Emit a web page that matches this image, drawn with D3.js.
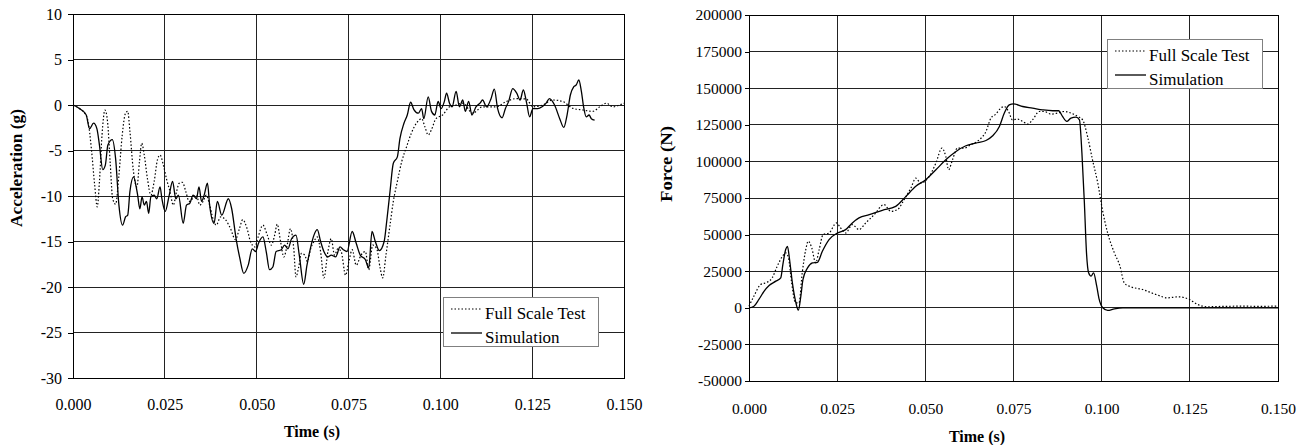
<!DOCTYPE html>
<meta charset="utf-8">
<style>
body { margin: 0; background: #fff; }
svg, text { font-family: "Liberation Serif", "Times New Roman", serif; fill: #000; }
.grid line { stroke: #222; stroke-width: 1px; shape-rendering: crispEdges; }
.frame { fill: none; stroke: #000; stroke-width: 1px; shape-rendering: crispEdges; }
.axis path { display: none; }
.axis line { stroke: #000; shape-rendering: crispEdges; }
.sim { fill: none; stroke: #000; stroke-width: 1.3px; }
.test { fill: none; stroke: #000; stroke-width: 1.2px; stroke-dasharray: 1.5,2; }
.legend rect { fill: #fff; stroke: #808080; stroke-width: 1px; shape-rendering: crispEdges; }
</style>
<body>
<script src="https://d3js.org/d3.v7.min.js"></script>
<script>

// ---- data ----
var seriesNames = ["Full Scale Test", "Simulation"];
var timeTicks = [0, 0.025, 0.05, 0.075, 0.1, 0.125, 0.15];
var accTicks = [-30, -25, -20, -15, -10, -5, 0, 5, 10];
var forceTicks = [-50000, -25000, 0, 25000, 50000, 75000, 100000, 125000, 150000, 175000, 200000];

// acceleration (g), [time s, value]
var accSim = [[0,0],[0.0018,-0.4],[0.0036,-1.1],[0.0045,-2.6],[0.0056,-2.0],[0.0065,-2.6],[0.0072,-4.4],
  [0.0081,-7.1],[0.0088,-6.6],[0.0095,-4.4],[0.0107,-3.8],[0.0116,-5.9],[0.0125,-11],[0.0135,-13.2],
  [0.0143,-12.3],[0.0149,-12.1],[0.0155,-9.5],[0.0165,-7.9],[0.0172,-9.0],[0.0176,-9.9],[0.0182,-11.4],
  [0.0188,-10.1],[0.0194,-11],[0.0200,-10.6],[0.0206,-11.9],[0.0212,-10.1],[0.0221,-9.9],[0.0228,-10.3],
  [0.0237,-9.0],[0.0242,-10.3],[0.0251,-11.7],[0.0262,-9.9],[0.0271,-8.4],[0.0280,-10.3],[0.0287,-9.9],
  [0.0300,-13],[0.0309,-11],[0.0318,-10.8],[0.0327,-9.9],[0.0336,-10.3],[0.0343,-9.0],[0.0350,-10.6],
  [0.0357,-9.9],[0.0366,-8.6],[0.0372,-11],[0.0384,-13],[0.0393,-10.6],[0.0405,-12.1],[0.0423,-10.3],
  [0.0432,-11.4],[0.0444,-14.7],[0.0454,-16.8],[0.0465,-18.5],[0.0477,-17.6],[0.0488,-15.8],[0.0497,-16.1],
  [0.0505,-15.2],[0.0517,-14.5],[0.0526,-16.1],[0.0535,-18.1],[0.0544,-17.8],[0.0553,-16.1],[0.0567,-15.9],
  [0.0576,-15.4],[0.0585,-15.8],[0.0595,-14.7],[0.0607,-14.3],[0.0616,-16.5],[0.0628,-19.7],[0.0637,-17.6],
  [0.0646,-15.8],[0.0656,-14.3],[0.0665,-13.7],[0.0674,-15],[0.0683,-16.1],[0.0694,-16.7],[0.0703,-16.5],
  [0.0715,-16.7],[0.0727,-15.6],[0.0736,-15.9],[0.0746,-16.1],[0.0760,-13.9],[0.0771,-15.2],[0.0782,-16.5],
  [0.0796,-17.0],[0.0805,-17.9],[0.0814,-13.9],[0.0823,-15],[0.0834,-16],[0.0847,-15],[0.0854,-12.8],
  [0.0863,-9.5],[0.0872,-6.4],[0.0883,-5.7],[0.0890,-3.7],[0.0901,-2.0],[0.0910,-1.1],[0.0919,0.3],
  [0.0928,-0.5],[0.0940,-0.9],[0.0949,-0.4],[0.0955,-1.5],[0.0967,0.9],[0.0976,-0.7],[0.0985,-1.1],
  [0.0994,0.4],[0.1002,-0.4],[0.1011,0.4],[0.1017,1.3],[0.1025,0.2],[0.1032,-0.2],[0.1043,1.5],
  [0.1052,-0.2],[0.1061,0.55],[0.1068,-0.7],[0.1077,0.4],[0.1086,-1.1],[0.1097,-0.2],[0.1108,0.2],
  [0.1115,0.55],[0.1126,-0.2],[0.1138,0.7],[0.1147,1.75],[0.1156,-0.4],[0.1168,-1.4],[0.1177,-0.4],
  [0.1186,0.4],[0.1197,1.8],[0.1208,1.3],[0.1217,0.55],[0.1226,1.65],[0.1235,0.2],[0.1243,-1.3],
  [0.1252,-0.4],[0.1265,-0.4],[0.1277,-0.2],[0.1288,0.2],[0.1297,0.7],[0.1311,0],[0.1325,-1.5],
  [0.1336,-2.45],[0.1345,-1.1],[0.1354,1.1],[0.1363,2.0],[0.1370,2.2],[0.1377,2.75],[0.1384,1.5],
  [0.1390,-0.2],[0.1397,-1.3],[0.1405,-1.1],[0.1411,-1.5],[0.1420,-1.65]];

var accTest = [[0,0],[0.0018,-0.4],[0.0032,-0.9],[0.0041,-1.8],[0.0050,-4.8],[0.0059,-8.8],[0.0066,-11.2],
  [0.0072,-8.4],[0.0079,-3.3],[0.0087,-0.55],[0.0094,-1.8],[0.0101,-6.2],[0.0108,-10.3],[0.0116,-10.9],
  [0.0125,-7.7],[0.0134,-3.3],[0.0143,-0.9],[0.0149,-0.7],[0.0155,-2.9],[0.0164,-7.1],[0.0174,-9.0],
  [0.0181,-6.2],[0.0187,-4.2],[0.0194,-5.5],[0.0203,-8.2],[0.0212,-9.9],[0.0221,-8.4],[0.0230,-6.0],
  [0.0237,-5.5],[0.0246,-6.6],[0.0255,-8.2],[0.0264,-9.5],[0.0273,-11],[0.0282,-9.5],[0.0289,-8.6],
  [0.0298,-8.5],[0.0307,-9.5],[0.0316,-10.6],[0.0325,-10.3],[0.0336,-9.9],[0.0345,-11],[0.0354,-10.6],
  [0.0363,-9.9],[0.0372,-11],[0.0381,-12.5],[0.0390,-13.2],[0.0402,-12.3],[0.0415,-12.6],[0.0429,-13.6],
  [0.0442,-14.8],[0.0453,-13.6],[0.0462,-12.6],[0.0474,-13.6],[0.0483,-15],[0.0495,-15.6],[0.0504,-14.5],
  [0.0517,-13.2],[0.0529,-14.3],[0.0540,-15.4],[0.0549,-14.3],[0.0556,-13.1],[0.0565,-15],[0.0574,-16.7],
  [0.0583,-15.4],[0.0592,-13.6],[0.0601,-15.8],[0.0607,-18.9],[0.0614,-17.9],[0.0622,-16.3],[0.0631,-16.5],
  [0.0638,-17.2],[0.0647,-15.8],[0.0656,-15],[0.0665,-14.5],[0.0674,-16.1],[0.0683,-19],[0.0694,-16.1],
  [0.0703,-14.7],[0.0712,-16.5],[0.0721,-15.8],[0.0730,-16.1],[0.0742,-18.7],[0.0751,-17.2],[0.0760,-15.9],
  [0.0771,-17.6],[0.0784,-16.5],[0.0796,-16.1],[0.0805,-18.1],[0.0816,-15.4],[0.0827,-15.8],[0.0836,-17.9],
  [0.0843,-19.0],[0.0852,-16.5],[0.0863,-13.2],[0.0872,-10.6],[0.0883,-8.4],[0.0895,-6.2],[0.0908,-4.6],
  [0.0921,-3.1],[0.0935,-2.0],[0.0949,-1.5],[0.0958,-2.4],[0.0967,-3.3],[0.0976,-2.7],[0.0988,-1.5],
  [0.1006,-1.1],[0.1025,-0.2],[0.1043,0],[0.1061,0.2],[0.1088,-0.9],[0.1115,-0.2],[0.1152,-0.2],
  [0.1179,0.37],[0.1206,0.7],[0.1234,0.66],[0.1252,-0.2],[0.1279,0],[0.1306,0.55],[0.1334,0.37],
  [0.1361,-0.37],[0.1388,-0.55],[0.1415,-0.7],[0.1434,-0.2],[0.1452,0.2],[0.1470,-0.2],[0.1488,0],[0.1500,0.2]];

// force (N), [time s, value]
var forceSim = [[0,0],[0.0014,1100],[0.0028,5700],[0.0043,11400],[0.0057,15200],[0.0076,18200],
  [0.0090,20500],[0.0096,29500],[0.0104,39800],[0.0109,42000],[0.0115,33000],[0.0123,17000],[0.0132,4500],
  [0.0140,-1600],[0.0147,8000],[0.0153,19300],[0.0166,27300],[0.0180,30700],[0.0194,31100],[0.0208,38600],
  [0.0227,46600],[0.0251,51100],[0.0274,53400],[0.0293,58000],[0.0312,61400],[0.0341,63600],[0.0378,66600],
  [0.0416,69300],[0.0445,76100],[0.0473,83000],[0.0501,87500],[0.0530,94300],[0.0558,101100],[0.0587,106800],
  [0.0615,110700],[0.0643,112500],[0.0672,114300],[0.0691,117500],[0.0710,123900],[0.0724,133000],
  [0.0738,138600],[0.0750,139300],[0.0776,137500],[0.0804,136400],[0.0833,135200],[0.0861,134600],
  [0.0878,134600],[0.0889,130700],[0.0901,127300],[0.0913,129600],[0.0927,130200],[0.0937,128400],
  [0.0944,105700],[0.0951,71600],[0.0957,37500],[0.0963,23900],[0.0970,21600],[0.0977,23900],[0.0986,14800],
  [0.0993,5700],[0.1003,0],[0.1017,-1800],[0.1036,-700],[0.1060,0],[0.1200,0],[0.1500,0]];

var forceTest = [[0,1100],[0.0014,8000],[0.0033,15900],[0.0052,17500],[0.0066,20500],[0.0080,28400],
  [0.0095,35200],[0.0104,37500],[0.0112,34100],[0.0121,17000],[0.0132,3400],[0.0142,3400],[0.0151,23900],
  [0.0161,39800],[0.0168,45500],[0.0178,40900],[0.0189,30700],[0.0199,39800],[0.0210,50000],[0.0227,51100],
  [0.0248,58000],[0.0260,54500],[0.0274,51100],[0.0293,56800],[0.0312,53400],[0.0331,58000],[0.0355,63600],
  [0.0383,70500],[0.0402,65900],[0.0421,67100],[0.0440,73900],[0.0459,81800],[0.0473,88600],[0.0487,85200],
  [0.0511,89800],[0.0530,98900],[0.0547,109100],[0.0558,103400],[0.0566,94300],[0.0577,101100],[0.0591,109100],
  [0.0610,109100],[0.0629,111400],[0.0653,114800],[0.0672,120500],[0.0686,129600],[0.0700,132300],
  [0.0714,136400],[0.0724,137500],[0.0736,134100],[0.0747,128400],[0.0762,128900],[0.0776,127300],
  [0.0790,125500],[0.0804,128400],[0.0823,134100],[0.0837,134100],[0.0856,132300],[0.0875,133000],
  [0.0894,134100],[0.0913,133000],[0.0932,130700],[0.0946,128400],[0.0960,117000],[0.0974,101100],
  [0.0989,85200],[0.1003,65900],[0.1017,51100],[0.1036,37500],[0.1052,28400],[0.1064,17000],[0.1078,14800],
  [0.1116,12500],[0.1154,9100],[0.1187,6800],[0.1216,7500],[0.1249,5700],[0.1272,2300],[0.1300,700],
  [0.1350,1000],[0.1400,1100],[0.1450,1000],[0.1500,1200]];

var svg = d3.select("body").append("svg")
    .attr("width", 1307)
    .attr("height", 445)
    .attr("font-family", "Liberation Serif, serif");

// plain hyphen for negatives, like the original
var intFormat = function(d) { return String(d); };

function drawPanel(p) {
  var x = d3.scaleLinear().domain([0, 0.15]).range([p.left, p.right]);
  var y = d3.scaleLinear().domain(p.yDomain).range([p.bottom, p.top]);
  var g = svg.append("g");

  // grid
  var grid = g.append("g").attr("class", "grid");
  grid.selectAll(".v").data(timeTicks).enter().append("line")
      .attr("x1", function(d) { return x(d); }).attr("x2", function(d) { return x(d); })
      .attr("y1", p.top).attr("y2", p.bottom);
  grid.selectAll(".h").data(p.yTicks).enter().append("line")
      .attr("x1", p.left).attr("x2", p.right)
      .attr("y1", function(d) { return y(d); }).attr("y2", function(d) { return y(d); });

  g.append("rect").attr("class", "frame")
      .attr("x", p.left).attr("y", p.top)
      .attr("width", p.right - p.left).attr("height", p.bottom - p.top);

  // axes
  var ya = g.append("g").attr("class", "axis")
      .attr("transform", "translate(" + p.left + ",0)")
      .call(d3.axisLeft(y).tickValues(p.yTicks).tickSize(p.tickSize).tickPadding(p.tickPad)
        .tickFormat(intFormat));
  ya.attr("font-family", null).attr("font-size", null);
  ya.selectAll("text").style("font-size", p.tickFont + "px");

  var xa = g.append("g").attr("class", "axis")
      .attr("transform", "translate(0," + p.bottom + ")")
      .call(d3.axisBottom(x).tickValues(timeTicks).tickSize(0).tickPadding(p.xPad)
        .tickFormat(d3.format(".3f")));
  xa.attr("font-family", null).attr("font-size", null);
  xa.selectAll("text").style("font-size", p.tickFont + "px");

  // curves
  var line = d3.line()
      .x(function(d) { return x(d[0]); })
      .y(function(d) { return y(d[1]); })
      .curve(d3.curveMonotoneX);
  g.append("path").datum(p.test).attr("class", "test").attr("d", line);
  g.append("path").datum(p.sim).attr("class", "sim").attr("d", line);

  // titles
  g.append("text")
      .attr("x", p.xTitle[0]).attr("y", p.xTitle[1])
      .attr("text-anchor", "middle")
      .style("font-weight", "bold").style("font-size", "16px")
      .text("Time (s)");
  g.append("text")
      .attr("transform", "translate(" + p.yTitle[0] + "," + p.yTitle[1] + ")rotate(-90)")
      .attr("text-anchor", "middle")
      .attr("textLength", p.yTitle[2]).attr("lengthAdjust", "spacingAndGlyphs")
      .style("font-weight", "bold").style("font-size", "16px")
      .text(p.yLabel);

  // legend
  var lg = g.append("g").attr("class", "legend")
      .attr("transform", "translate(" + p.legend[0] + "," + p.legend[1] + ")");
  lg.append("rect").attr("x", 0).attr("y", 0).attr("width", 155).attr("height", 49);
  seriesNames.forEach(function(name, i) {
    lg.append("line")
        .attr("class", i === 0 ? "test" : "sim")
        .attr("x1", 8).attr("x2", 39)
        .attr("y1", 12 + i * 24).attr("y2", 12 + i * 24);
    lg.append("text")
        .attr("x", 42).attr("y", 22 + i * 24)
        .style("font-size", "17px")
        .text(name);
  });
}

drawPanel({
  left: 73, right: 624, top: 14, bottom: 378,
  yDomain: [-30, 10], yTicks: accTicks,
  tickSize: 5, tickPad: 6, tickFont: 16, xPad: 21,
  sim: accSim, test: accTest,
  xTitle: [312, 437], yTitle: [22, 168, 118], yLabel: "Acceleration (g)",
  legend: [443, 297]
});

drawPanel({
  left: 749, right: 1278, top: 15, bottom: 381,
  yDomain: [-50000, 200000], yTicks: forceTicks,
  tickSize: 4, tickPad: 3, tickFont: 15.5, xPad: 22,
  sim: forceSim, test: forceTest,
  xTitle: [977, 442], yTitle: [672, 164, 76], yLabel: "Force (N)",
  legend: [1107, 39]
});

</script>
</body>
